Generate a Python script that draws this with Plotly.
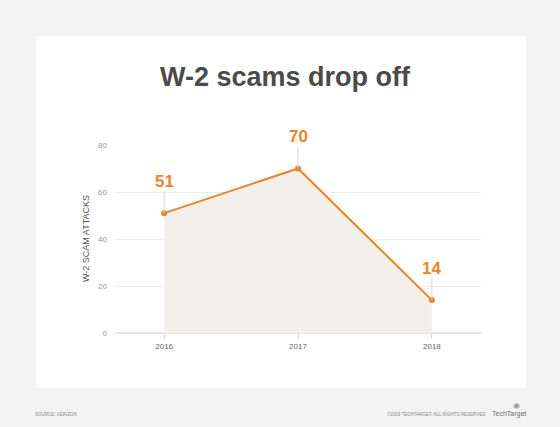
import plotly.graph_objects as go

years = [2016, 2017, 2018]
attacks = [51, 70, 14]
y_ticks = [0, 20, 40, 60, 80]

ORANGE = "#e8852b"
L, R, T, B = 115, 79, 145, 94
W, H = 560, 427
pw, ph = W - L - R, H - T - B

def px_x(p):
    return (p - L) / pw

def px_y(p):
    return (H - B - p) / ph

fig = go.Figure()
fig.add_trace(go.Scatter(
    x=years, y=attacks, mode="lines+markers",
    line=dict(color=ORANGE, width=2),
    marker=dict(color=ORANGE, size=6),
    fill="tozeroy", fillcolor="#f3f0e9",
    hoverinfo="skip", showlegend=False,
))

annotations = []
for xv, yv in zip(years, attacks):
    annotations.append(dict(
        x=xv, y=yv, xref="x", yref="y", text=f"<b>{yv}</b>",
        showarrow=True, arrowhead=0, arrowwidth=1, arrowcolor="#d6d6d6",
        ax=0, ay=-32, font=dict(family="Liberation Sans", size=17, color=ORANGE),
        borderpad=0,
    ))

annotations.append(dict(
    x=px_x(86), y=0.5, xref="paper", yref="paper", text="W-2 SCAM ATTACKS",
    textangle=-90, showarrow=False, xanchor="center", yanchor="middle",
    font=dict(family="Liberation Sans", size=9, color="#555555"),
))
annotations.append(dict(
    x=px_x(33), y=px_y(414), xref="paper", yref="paper", text="SOURCE: VERIZON",
    xanchor="left", yanchor="middle", showarrow=False,
    font=dict(family="Liberation Sans", size=4.5, color="#8a8a8a"),
))
annotations.append(dict(
    x=px_x(488), y=px_y(414), xref="paper", yref="paper",
    text="©2019 TECHTARGET. ALL RIGHTS RESERVED",
    xanchor="right", yanchor="middle", showarrow=False,
    font=dict(family="Liberation Sans", size=4.5, color="#8a8a8a"),
))
annotations.append(dict(
    x=px_x(528), y=px_y(414), xref="paper", yref="paper", text="TechTarget",
    xanchor="right", yanchor="middle", showarrow=False,
    font=dict(family="Liberation Sans Narrow, Liberation Sans", size=7, color="#6f6f6f"),
))
annotations.append(dict(
    x=px_x(516), y=px_y(405), xref="paper", yref="paper", text="◉",
    xanchor="center", yanchor="middle", showarrow=False,
    font=dict(family="DejaVu Sans", size=8, color="#999999"),
))

fig.update_layout(
    width=W, height=H,
    margin=dict(l=L, r=R, t=T, b=B),
    paper_bgcolor="#f3f3f3",
    plot_bgcolor="rgba(0,0,0,0)",
    title=dict(
        text="<b>W-2 scams drop off</b>", x=285 / W, xref="container", xanchor="center",
        y=1 - 77 / H, yref="container", yanchor="middle",
        font=dict(family="Liberation Sans", size=27, color="#4a4a4a"),
    ),
    shapes=[dict(
        type="rect", xref="paper", yref="paper", layer="below",
        x0=px_x(36), x1=px_x(526), y0=px_y(388), y1=px_y(36),
        fillcolor="white", line=dict(width=0),
    )],
    annotations=annotations,
    xaxis=dict(
        range=[2015.633, 2018.367], tickvals=years, ticktext=[str(y) for y in years],
        showgrid=False, zeroline=False, showline=False,
        ticks="outside", ticklen=5, tickcolor="#d9d9d9", tickwidth=1,
        tickfont=dict(family="Liberation Sans", size=8, color="#666666"),
        fixedrange=True,
    ),
    yaxis=dict(
        range=[0, 80], tickvals=y_ticks, showgrid=True, gridcolor="#ececec", gridwidth=1,
        zeroline=True, zerolinecolor="#e3e3e3", zerolinewidth=2,
        showline=False, ticks="", ticklabelstandoff=7,
        tickfont=dict(family="Liberation Sans", size=8, color="#9a9a9a"),
        fixedrange=True,
    ),
)

fig.write_html(
    "out.html",
    config={"displayModeBar": False},
    post_script="document.body.style.margin='0';document.body.style.overflow='hidden';",
)
